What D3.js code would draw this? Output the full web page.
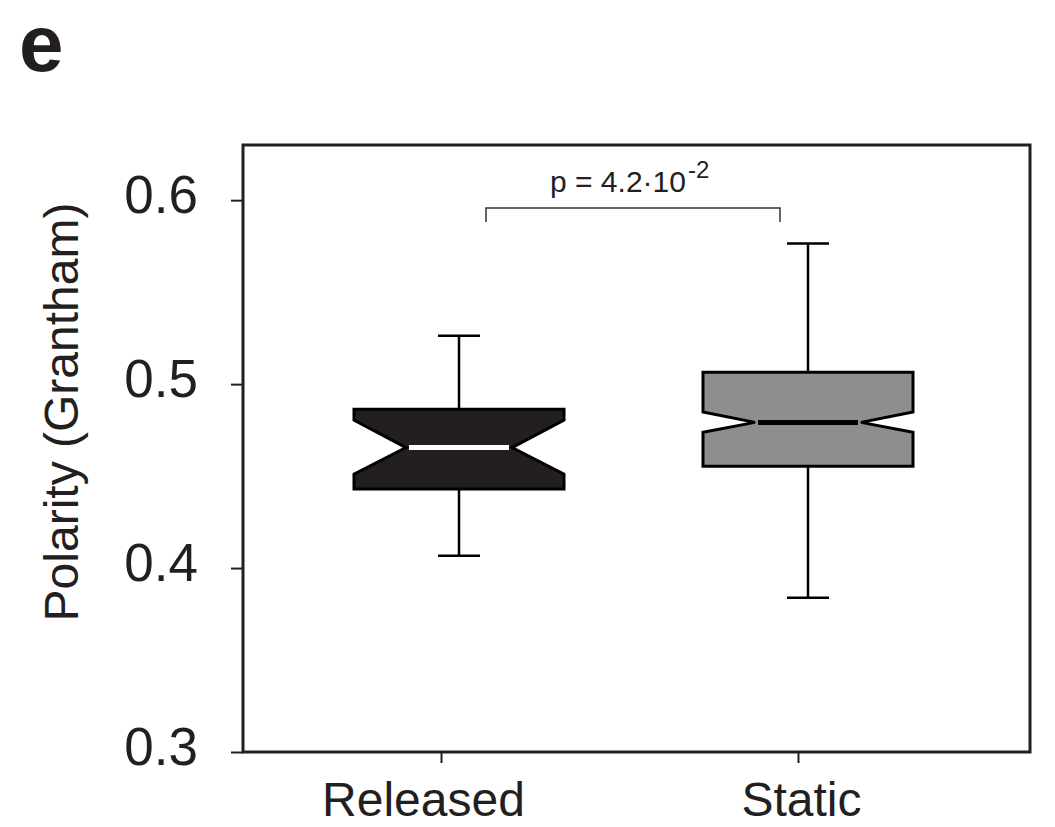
<!DOCTYPE html>
<html>
<head>
<meta charset="utf-8">
<script src="https://cdn.jsdelivr.net/npm/d3@7"></script>
<style>
  body { margin: 0; background: #fff; }
  svg { display: block; }
  text { font-family: "Liberation Sans", Arial, Helvetica, sans-serif; fill: #231f20; }
</style>
</head>
<body>
<svg id="chart" width="1055" height="827"></svg>
<script>
// Box-plot summaries per group
const groups      = ["Released", "Static"];
const whiskerLow  = [0.4067, 0.3839];
const q1          = [0.4430, 0.4554];
const median      = [0.4655, 0.4792];
const q3          = [0.4864, 0.5064];
const whiskerHigh = [0.5263, 0.5765];
const notchLow    = [0.4511, 0.4738];
const notchHigh   = [0.4804, 0.4848];
const boxFill     = ["#231f20", "#8e8e8e"];
const medianColor = ["#ffffff", "#000000"];

const yTicks = [0.3, 0.4, 0.5, 0.6];
const yTitle = "Polarity (Grantham)";
const panelLetter = "e";
const pText = "p = 4.2·10";
const pExponent = "-2";

// Layout
const frame = { left: 243, right: 1030, top: 145, bottom: 752 };
const boxShift = [18, 10];      // boxes sit slightly right of their ticks
const labelShift = [-18, 3];
const halfW = 105, notchIndent = 52, capHalf = 21;

const svg = d3.select("#chart");

const y = d3.scaleLinear().domain([0.3, 0.63]).range([frame.bottom, frame.top]);
const x = d3.scalePoint().domain(groups).range([441, 798]);

// Frame
svg.append("rect")
  .attr("x", frame.left).attr("y", frame.top)
  .attr("width", frame.right - frame.left).attr("height", frame.bottom - frame.top)
  .attr("fill", "none").attr("stroke", "#231f20").attr("stroke-width", 3);

// Y axis
const gy = svg.append("g").attr("transform", `translate(${frame.left},0)`)
  .call(d3.axisLeft(y).tickValues(yTicks).tickSize(12).tickPadding(33).tickFormat(d3.format(".1f")));
gy.select(".domain").remove();
gy.selectAll(".tick line").attr("stroke", "#231f20").attr("stroke-width", 2);
gy.selectAll(".tick text").attr("font-size", 53).attr("dy", 12).style("fill", "#231f20");

// X axis
const gx = svg.append("g").attr("transform", `translate(0,${frame.bottom})`)
  .call(d3.axisBottom(x).tickSize(11));
gx.select(".domain").remove();
gx.selectAll(".tick line").attr("stroke", "#231f20").attr("stroke-width", 2);
gx.selectAll(".tick text").attr("font-size", 48).attr("y", 64).attr("dy", 0)
  .attr("dx", (d, i) => labelShift[i]).style("fill", "#231f20");

// Boxes
const centers = groups.map((g, i) => x(g) + boxShift[i]);

groups.forEach((g, i) => {
  const c = centers[i];
  const gBox = svg.append("g");

  // whiskers
  gBox.append("line").attr("x1", c).attr("x2", c).attr("y1", y(q3[i])).attr("y2", y(whiskerHigh[i]))
    .attr("stroke", "#000").attr("stroke-width", 2.5);
  gBox.append("line").attr("x1", c).attr("x2", c).attr("y1", y(q1[i])).attr("y2", y(whiskerLow[i]))
    .attr("stroke", "#000").attr("stroke-width", 2.5);
  [whiskerHigh[i], whiskerLow[i]].forEach(v => {
    gBox.append("line").attr("x1", c - capHalf).attr("x2", c + capHalf).attr("y1", y(v)).attr("y2", y(v))
      .attr("stroke", "#000").attr("stroke-width", 2.5);
  });

  // notched box
  const p = d3.path();
  p.moveTo(c - halfW, y(q3[i]));
  p.lineTo(c + halfW, y(q3[i]));
  p.lineTo(c + halfW, y(notchHigh[i]));
  p.lineTo(c + halfW - notchIndent, y(median[i]));
  p.lineTo(c + halfW, y(notchLow[i]));
  p.lineTo(c + halfW, y(q1[i]));
  p.lineTo(c - halfW, y(q1[i]));
  p.lineTo(c - halfW, y(notchLow[i]));
  p.lineTo(c - halfW + notchIndent, y(median[i]));
  p.lineTo(c - halfW, y(notchHigh[i]));
  p.closePath();
  gBox.append("path").attr("d", p.toString())
    .attr("fill", boxFill[i]).attr("stroke", "#000").attr("stroke-width", 3)
    .attr("stroke-linejoin", "miter");

  // median
  gBox.append("line")
    .attr("x1", c - halfW + notchIndent + 3).attr("x2", c + halfW - notchIndent - 3)
    .attr("y1", y(median[i])).attr("y2", y(median[i]))
    .attr("stroke", medianColor[i]).attr("stroke-width", 5);
});

// Significance bracket
const bx0 = centers[0] + 27, bx1 = centers[1] - 28;
svg.append("path")
  .attr("d", `M${bx0},222V208H${bx1}V222`)
  .attr("fill", "none").attr("stroke", "#333").attr("stroke-width", 1.5);

const pt = svg.append("text").attr("x", 550).attr("y", 192).attr("font-size", 30);
pt.append("tspan").text(pText);
pt.append("tspan").attr("font-size", 24).attr("dx", 2).attr("dy", -14).text(pExponent);

// Y title
svg.append("text")
  .attr("transform", "translate(78,412) rotate(-90)")
  .attr("text-anchor", "middle").attr("font-size", 48)
  .text(yTitle);

// Panel letter
svg.append("text").attr("x", 19).attr("y", 71)
  .attr("font-size", 80).attr("font-weight", "bold")
  .text(panelLetter);
</script>
</body>
</html>
